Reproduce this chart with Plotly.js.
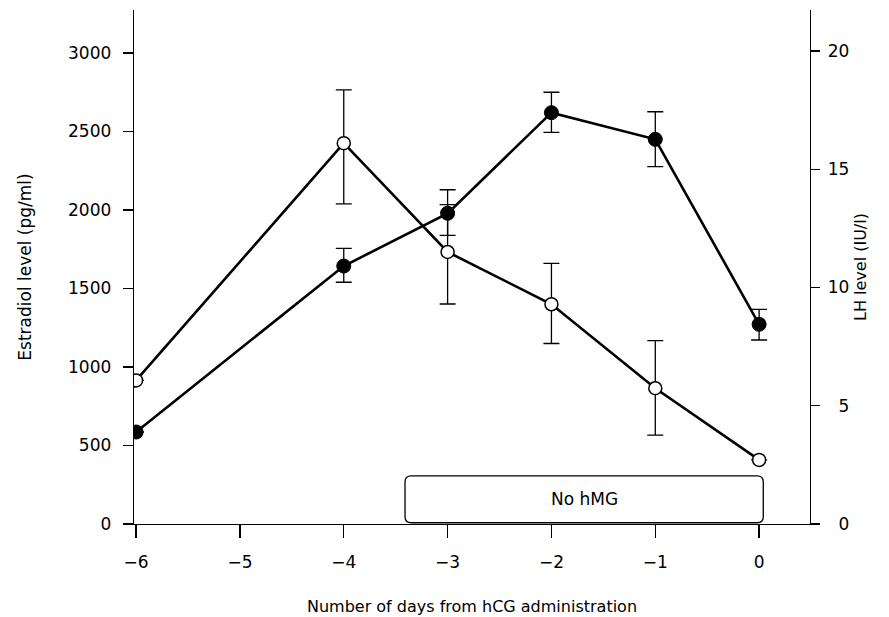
<!DOCTYPE html>
<html>
<head>
<meta charset="utf-8">
<script src="https://cdn.plot.ly/plotly-3.0.1.min.js"></script>
<style>html,body{margin:0;padding:0;background:#fff;}</style>
</head>
<body>
<div id="chart" style="width:889px;height:617px;"></div>
<script>
// ---- data ----
var days = [-6, -4, -3, -2, -1, 0];
var estradiol = [586, 1643, 1979, 2620, 2450, 1272];          // pg/ml, filled circles, left axis
var estradiolErrPlus = [0, 113, 150, 130, 176, 95];
var estradiolErrMinus = [0, 103, 140, 125, 174, 100];
var lh = [6.07, 16.10, 11.5, 9.29, 5.74, 2.71];                // IU/l, open circles, right axis
var lhErrPlus = [0, 2.25, 2.0, 1.73, 2.01, 0];
var lhErrMinus = [0, 2.57, 2.2, 1.66, 1.98, 0];
var xTicks = [-6, -5, -4, -3, -2, -1, 0];
var leftTicks = [0, 500, 1000, 1500, 2000, 2500, 3000];
var rightTicks = [0, 5, 10, 15, 20];
var rightTickText = ["\u20070", "\u20075", "10", "15", "20"];
var boxLabel = "No hMG";
var boxX = [-3.41, 0.04];
var boxY = [8, 306];

var FONT = "DejaVu Sans, sans-serif";

var traces = [
  {
    x: days, y: lh, yaxis: "y2", type: "scatter", mode: "lines+markers",
    line: {color: "#000", width: 2.6},
    marker: {symbol: "circle", size: 13, color: "#fff", line: {color: "#000", width: 1.5}},
    error_y: {type: "data", symmetric: false, array: lhErrPlus, arrayminus: lhErrMinus,
              color: "#000", thickness: 1.3, width: 8},
    name: "LH", hoverinfo: "x+y"
  },
  {
    x: days, y: estradiol, yaxis: "y", type: "scatter", mode: "lines+markers",
    line: {color: "#000", width: 2.6},
    marker: {symbol: "circle", size: 14, color: "#000", line: {color: "#000", width: 1}},
    error_y: {type: "data", symmetric: false, array: estradiolErrPlus, arrayminus: estradiolErrMinus,
              color: "#000", thickness: 1.3, width: 8},
    name: "Estradiol", hoverinfo: "x+y"
  }
];

// rounded rectangle in data coordinates
var rx = 0.06, ry = 38;
var x0 = boxX[0], x1 = boxX[1], y0 = boxY[0], y1 = boxY[1];
var boxPath = "M" + (x0 + rx) + "," + y0 +
  " L" + (x1 - rx) + "," + y0 + " Q" + x1 + "," + y0 + " " + x1 + "," + (y0 + ry) +
  " L" + x1 + "," + (y1 - ry) + " Q" + x1 + "," + y1 + " " + (x1 - rx) + "," + y1 +
  " L" + (x0 + rx) + "," + y1 + " Q" + x0 + "," + y1 + " " + x0 + "," + (y1 - ry) +
  " L" + x0 + "," + (y0 + ry) + " Q" + x0 + "," + y0 + " " + (x0 + rx) + "," + y0 + " Z";

var layout = {
  width: 889, height: 617,
  margin: {l: 134, r: 79, t: 10, b: 93, pad: 0},
  paper_bgcolor: "#fff", plot_bgcolor: "#fff",
  showlegend: false,
  font: {family: FONT, size: 17, color: "#000"},
  xaxis: {
    range: [-6.02, 0.49], tickvals: xTicks, ticks: "outside", ticklen: 13, tickwidth: 1.3,
    tickcolor: "#000", showline: true, linecolor: "#000", linewidth: 1.3, showgrid: false,
    zeroline: false, tickfont: {family: FONT, size: 17}, ticklabelstandoff: 9,
    title: {text: "Number of days from hCG administration", font: {family: FONT, size: 16}, standoff: 30}
  },
  yaxis: {
    range: [0, 3274], tickvals: leftTicks, ticks: "outside", ticklen: 10, tickwidth: 1.3,
    tickcolor: "#000", showline: true, linecolor: "#000", linewidth: 1.3, showgrid: false,
    zeroline: false, tickfont: {family: FONT, size: 17}, ticklabelstandoff: 8,
    title: {text: "Estradiol level (pg/ml)", font: {family: FONT, size: 17}, standoff: 32}
  },
  yaxis2: {
    overlaying: "y", side: "right", anchor: "x",
    range: [0, 21.73], tickvals: rightTicks, ticktext: rightTickText, ticks: "outside", ticklen: 9,
    tickwidth: 1.3, tickcolor: "#000", showline: true, linecolor: "#000", linewidth: 1.3,
    showgrid: false, zeroline: false, tickfont: {family: FONT, size: 17}, ticklabelstandoff: 4,
    title: {text: "LH level (IU/l)", font: {family: FONT, size: 16}, standoff: 6}
  },
  shapes: [{
    type: "path", xref: "x", yref: "y", path: boxPath,
    line: {color: "#000", width: 1.3}, fillcolor: "rgba(0,0,0,0)", layer: "below"
  }],
  annotations: [{
    x: (x0 + x1) / 2, y: (y0 + y1) / 2, xref: "x", yref: "y", text: boxLabel,
    showarrow: false, font: {family: FONT, size: 17, color: "#000"}
  }]
};

Plotly.newPlot("chart", traces, layout, {displayModeBar: false, staticPlot: true});
</script>
</body>
</html>
